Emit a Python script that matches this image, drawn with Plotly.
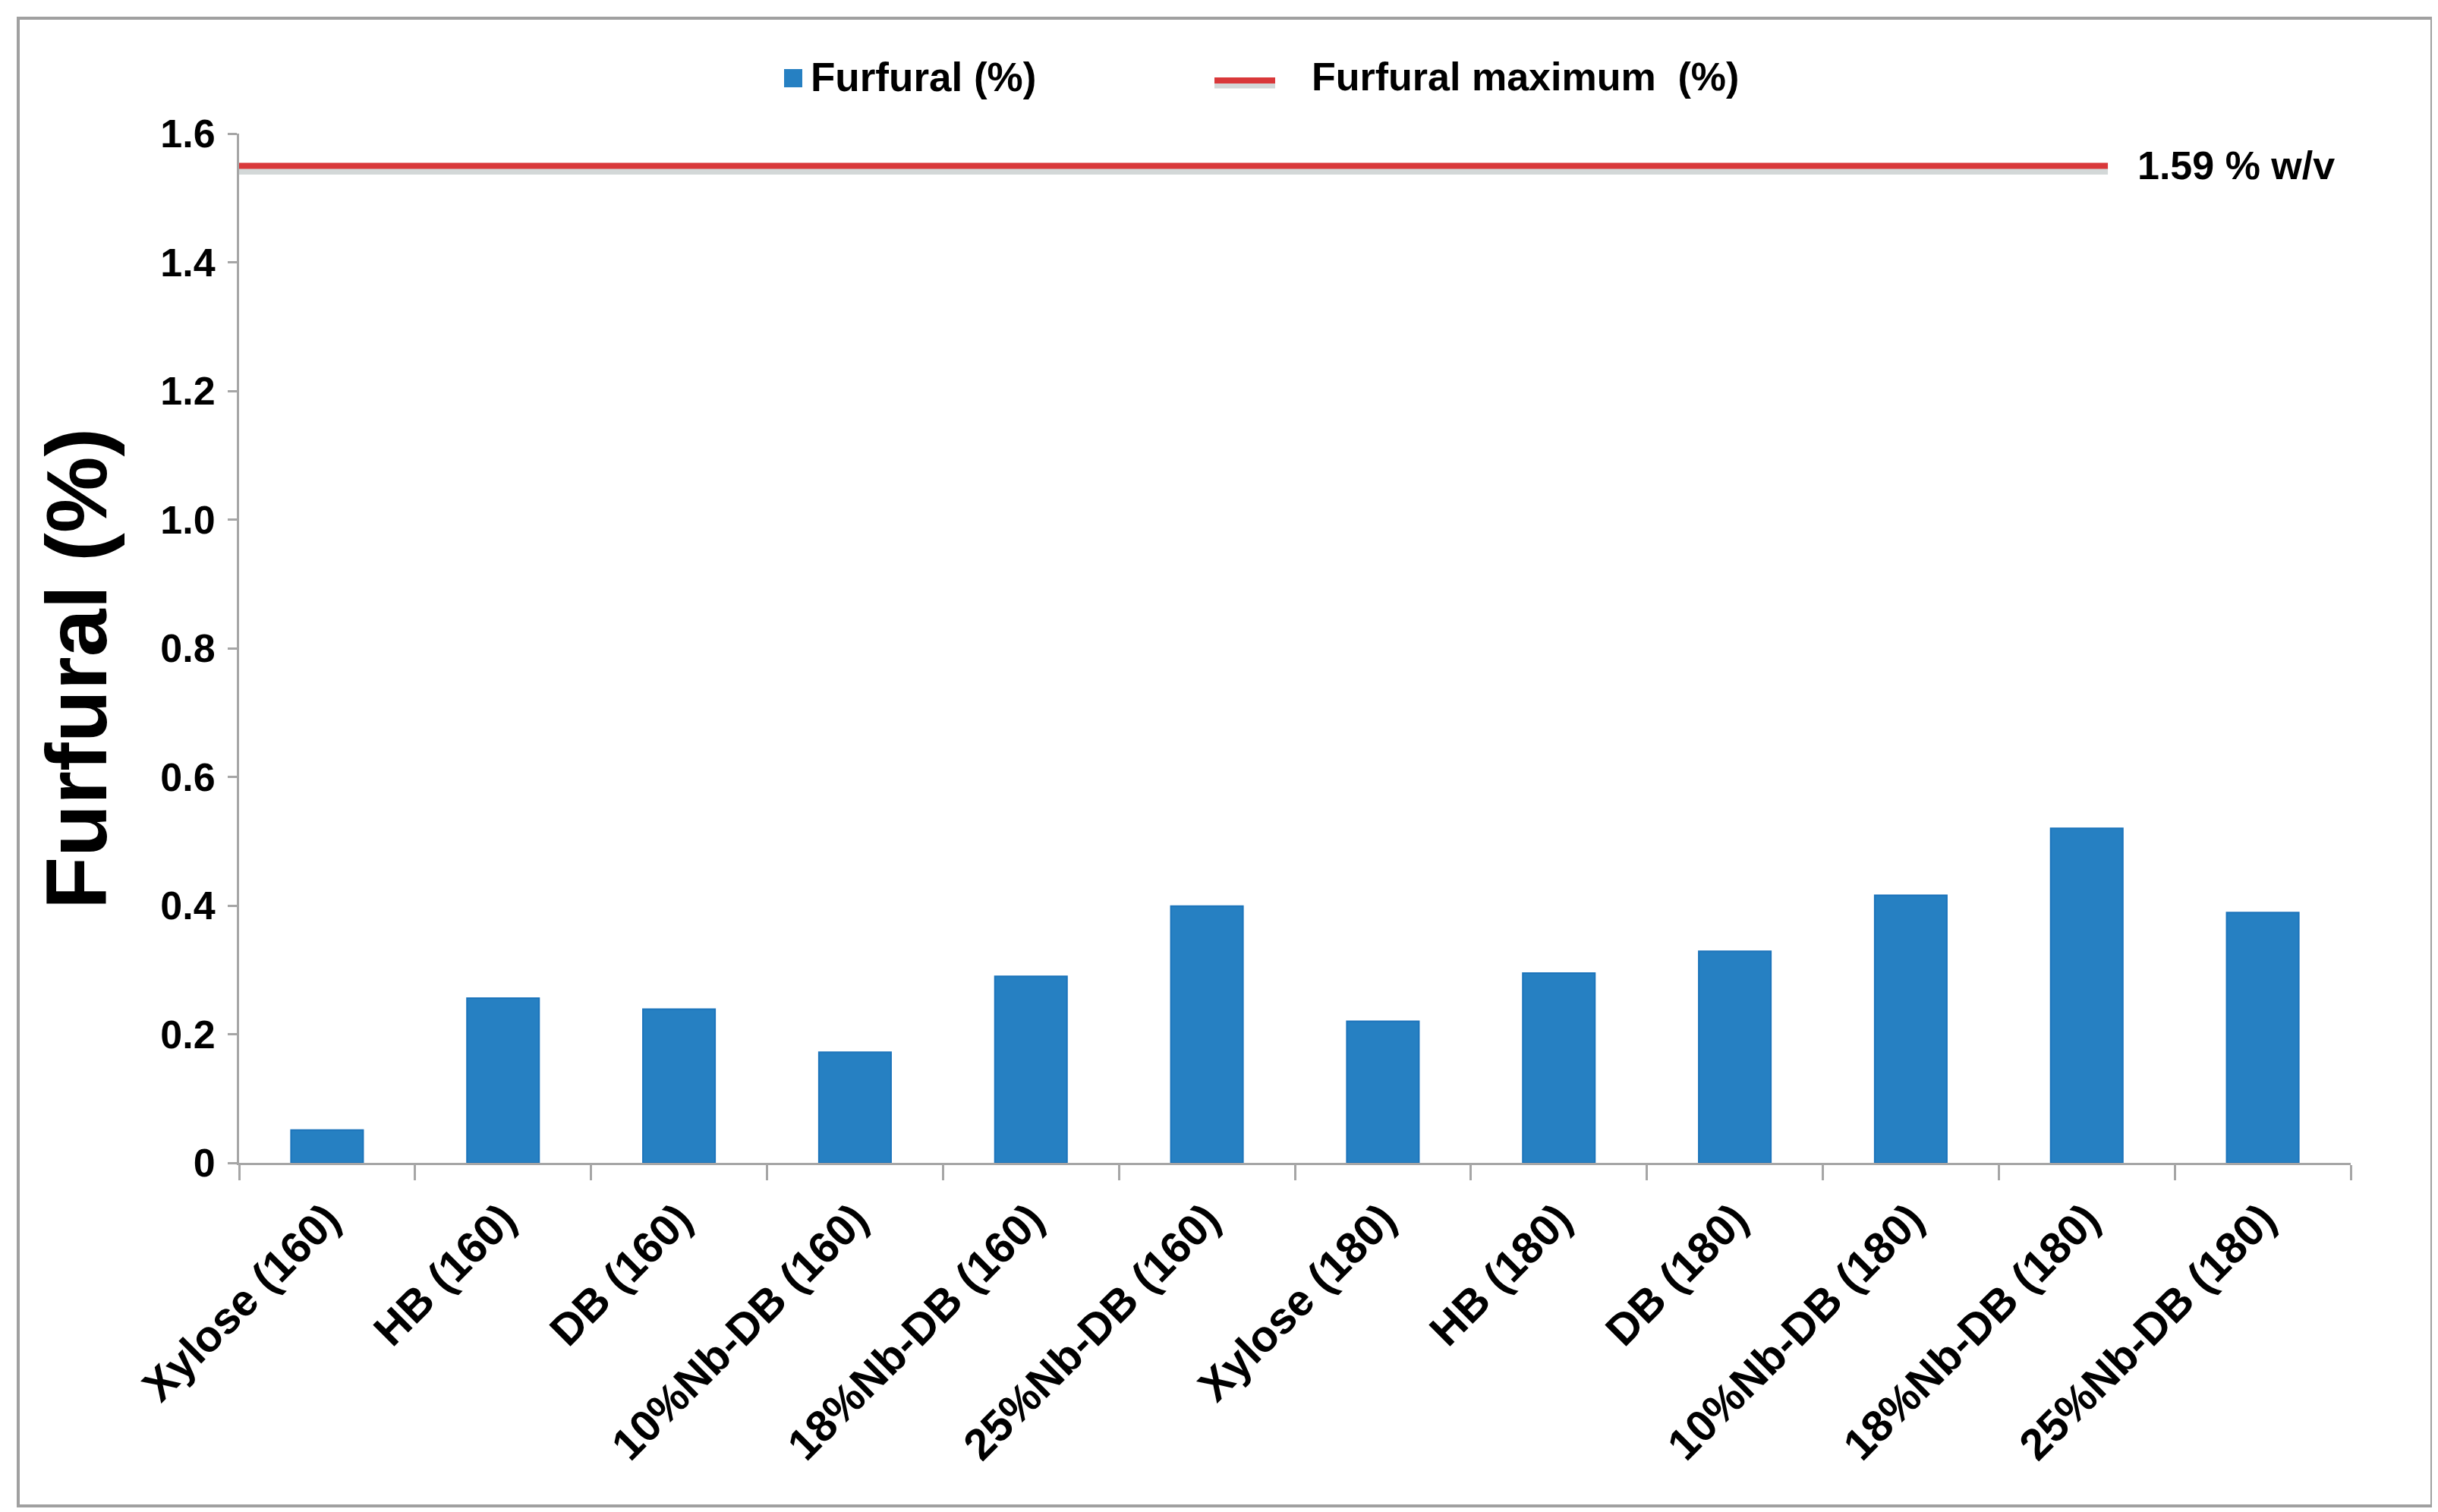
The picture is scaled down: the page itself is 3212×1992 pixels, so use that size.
import plotly.graph_objects as go

categories = ["Xylose (160)", "HB (160)", "DB (160)", "10%Nb-DB (160)", "18%Nb-DB (160)",
              "25%Nb-DB (160)", "Xylose (180)", "HB (180)", "DB (180)", "10%Nb-DB (180)",
              "18%Nb-DB (180)", "25%Nb-DB (180)"]
furfural = [0.051, 0.256, 0.239, 0.172, 0.290, 0.399, 0.220, 0.295, 0.329, 0.416, 0.520, 0.389]
max_line_x = [-0.5, 10.12]
max_line_y = [1.55, 1.55]
max_label = "1.59 % w/v"
series_names = ["Furfural (%)", "Furfural maximum\u00a0\u00a0(%)"]
y_tickvals = [0, 0.2, 0.4, 0.6, 0.8, 1.0, 1.2, 1.4, 1.6]
y_ticktext = ["0", "0.2", "0.4", "0.6", "0.8", "1.0", "1.2", "1.4", "1.6"]

W, H = 3212, 1992
L, R, T, B = 307, 123, 168, 468
PW, PH = W - L - R, H - T - B
FONT = "Liberation Sans, Arial, sans-serif"
BLUE = "#2680C2"
RED = "#D9383A"
GRAY = "#A6A6A6"


def px_x(px):
    return (px - L) / PW


def px_y(py):
    return (H - B - py) / PH


fig = go.Figure()
fig.add_trace(go.Bar(
    x=categories, y=furfural, name=series_names[0],
    marker=dict(color=BLUE, line=dict(color="#1C74BB", width=2)),
    width=0.41, showlegend=False,
))
# soft shadow of the maximum line
shadow_off = 7 * 1.6 / PH
fig.add_trace(go.Scatter(
    x=max_line_x, y=[v - shadow_off for v in max_line_y], xaxis="x2",
    mode="lines", line=dict(color="rgba(110,125,125,0.30)", width=9),
    showlegend=False, hoverinfo="skip",
))
fig.add_trace(go.Scatter(
    x=max_line_x, y=max_line_y, xaxis="x2",
    mode="lines", name=series_names[1],
    line=dict(color=RED, width=8), showlegend=False,
))

fig.update_layout(
    width=W, height=H,
    margin=dict(l=L, r=R, t=T, b=B),
    paper_bgcolor="white", plot_bgcolor="white",
    font=dict(family=FONT, color="black", size=48),
    showlegend=False,
    xaxis=dict(
        type="category", categoryorder="array", categoryarray=categories,
        range=[-0.5, len(categories) - 0.5],
        showline=True, linecolor=GRAY, linewidth=3,
        ticks="outside", tickson="boundaries", ticklen=20, tickwidth=3, tickcolor=GRAY,
        tickangle=-45, tickfont=dict(size=58, family=FONT, weight="bold"),
        ticklabelstandoff=14,
        showgrid=False, zeroline=False,
    ),
    xaxis2=dict(overlaying="x", range=[-0.5, len(categories) - 0.5], visible=False),
    yaxis=dict(
        range=[0, 1.6], tickvals=y_tickvals, ticktext=y_ticktext,
        showline=True, linecolor=GRAY, linewidth=3,
        ticks="outside", ticklen=12, tickwidth=3, tickcolor=GRAY,
        tickfont=dict(size=52, family=FONT, weight="bold"),
        ticklabelstandoff=6,
        showgrid=False, zeroline=False,
    ),
    bargap=0.59,
)

# Custom legend (to match the reference's icon sizes and spacing)
fig.add_shape(type="rect", xref="paper", yref="paper",
              x0=px_x(1025), x1=px_x(1049), y0=px_y(107), y1=px_y(83),
              fillcolor=BLUE, line=dict(width=0))
fig.add_annotation(text=series_names[0], showarrow=False, xref="paper", yref="paper",
                   x=px_x(1058), y=px_y(93), xanchor="left", yanchor="middle",
                   font=dict(size=53, family=FONT, weight="bold"))
fig.add_shape(type="line", xref="paper", yref="paper",
              x0=px_x(1592), x1=px_x(1672), y0=px_y(104), y1=px_y(104),
              line=dict(color="rgba(110,125,125,0.30)", width=9))
fig.add_shape(type="line", xref="paper", yref="paper",
              x0=px_x(1592), x1=px_x(1672), y0=px_y(98), y1=px_y(98),
              line=dict(color=RED, width=8))
fig.add_annotation(text=series_names[1], showarrow=False, xref="paper", yref="paper",
                   x=px_x(1718), y=px_y(93), xanchor="left", yanchor="middle",
                   font=dict(size=52, family=FONT, weight="bold"))

fig.add_annotation(
    text="Furfural (%)", textangle=-90, showarrow=False,
    xref="paper", yref="paper", x=px_x(93), y=px_y(873),
    xanchor="center", yanchor="middle",
    font=dict(size=113, family=FONT, weight="bold"),
)
fig.add_annotation(
    text=max_label, showarrow=False,
    xref="paper", yref="y", x=px_x(2806), y=max_line_y[0],
    xanchor="left", yanchor="middle",
    font=dict(size=52, family=FONT, weight="bold"),
)
fig.add_shape(
    type="rect", xref="paper", yref="paper",
    x0=px_x(16), x1=px_x(W - 16),
    y0=px_y(H - 16), y1=px_y(16),
    line=dict(color="#A0A0A0", width=4), layer="below",
)

fig.write_html("out.html")
